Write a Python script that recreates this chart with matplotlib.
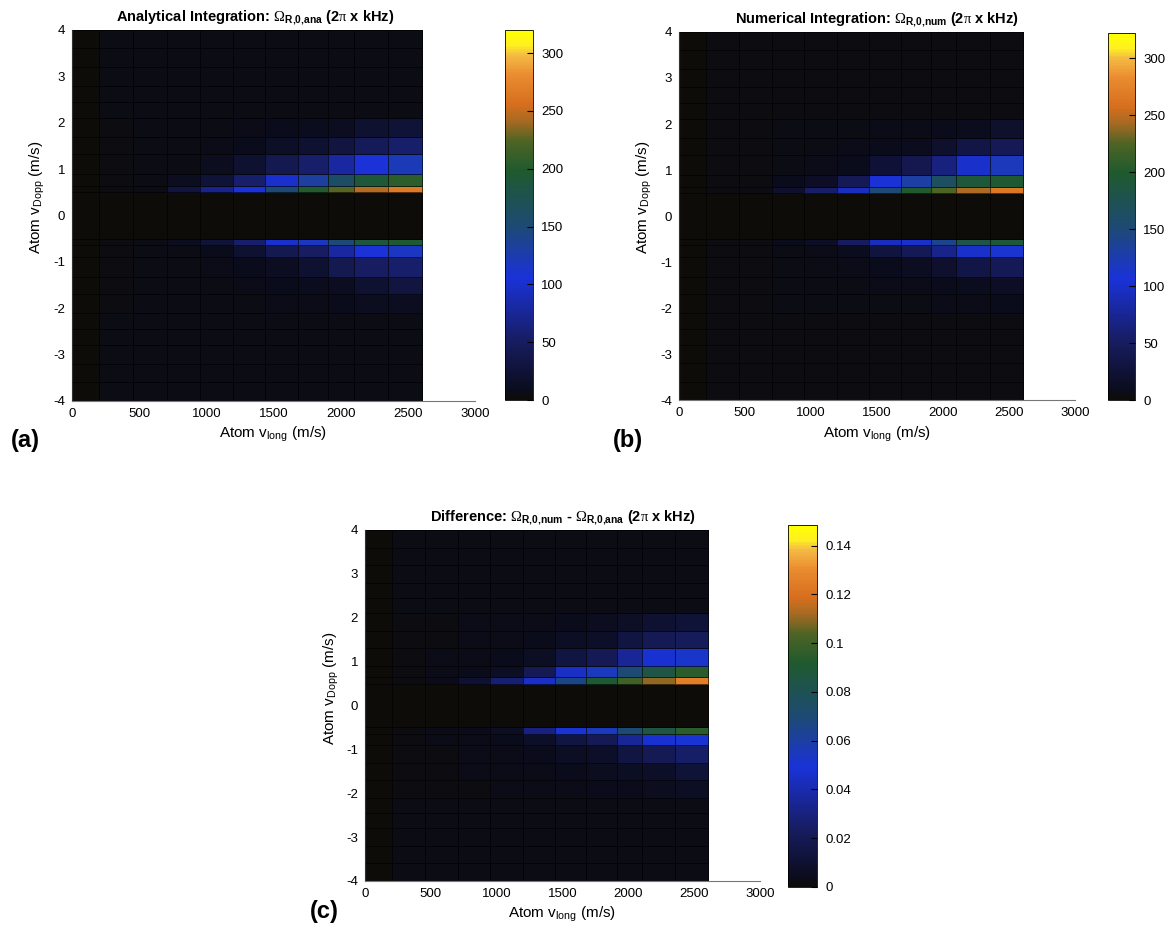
import numpy as np
import matplotlib
matplotlib.use('Agg')
import matplotlib.pyplot as plt
from matplotlib.colors import LinearSegmentedColormap

plt.rcParams['font.family'] = ['Liberation Sans', 'DejaVu Sans']
plt.rcParams['axes.unicode_minus'] = False
plt.rcParams['mathtext.fontset'] = 'custom'
plt.rcParams['mathtext.rm'] = 'Liberation Serif'
plt.rcParams['mathtext.it'] = 'Liberation Serif'
plt.rcParams['mathtext.bf'] = 'Liberation Sans:bold'
plt.rcParams['mathtext.sf'] = 'Liberation Sans'

# grid edges (m/s)
v_long_edges = [0, 205, 455, 705, 950, 1200, 1440, 1680, 1910, 2100, 2355, 2605]
v_dopp_edges = [-4, -3.6, -3.2, -2.8, -2.45, -2.1, -1.7, -1.32, -0.9, -0.64, -0.5,
                0.5, 0.64, 0.9, 1.32, 1.7, 2.1, 2.45, 2.8, 3.2, 3.6, 4]

# rows going outward from the centre band: +0.5..0.64, 0.64..0.9, ...
ana_pos = [
    [0, 4, 6, 30, 70, 105, 150, 200, 225, 245, 265],
    [0, 4, 5, 10, 25, 55, 100, 130, 160, 190, 205],
    [0, 4, 5, 6, 10, 20, 40, 55, 80, 105, 120],
    [0, 4, 5, 6, 7, 8, 15, 20, 30, 45, 55],
    [0, 4, 5, 6, 6, 7, 8, 9, 12, 20, 25],
]
ana_neg = [
    [0, 4, 5, 10, 25, 55, 100, 115, 150, 185, 195],
    [0, 4, 5, 6, 8, 20, 40, 50, 80, 105, 115],
    [0, 4, 5, 6, 7, 8, 12, 20, 40, 50, 55],
    [0, 4, 5, 6, 6, 7, 8, 9, 12, 20, 30],
    [0, 4, 5, 6, 6, 6, 7, 7, 8, 10, 12],
]
num_pos = [
    [0, 4, 6, 20, 55, 95, 150, 200, 225, 245, 265],
    [0, 4, 5, 8, 15, 45, 105, 130, 165, 190, 195],
    [0, 4, 5, 6, 7, 8, 25, 40, 65, 100, 120],
    [0, 4, 5, 6, 6, 7, 8, 10, 18, 35, 45],
    [0, 4, 5, 6, 6, 6, 7, 7, 8, 10, 18],
]
num_neg = [
    [0, 4, 5, 8, 15, 50, 95, 100, 140, 180, 190],
    [0, 4, 5, 6, 7, 10, 30, 45, 70, 100, 110],
    [0, 4, 5, 6, 6, 7, 8, 12, 20, 35, 45],
    [0, 4, 5, 6, 6, 6, 7, 7, 8, 10, 15],
    [0, 4, 5, 6, 6, 6, 6, 6, 7, 7, 8],
]
diff_pos = [
    [0, .002, .003, .01, .027, .045, .066, .09, .1, .11, .125],
    [0, .002, .003, .004, .006, .02, .045, .055, .07, .085, .095],
    [0, .002, .003, .003, .004, .006, .015, .02, .035, .048, .052],
    [0, .002, .002, .003, .003, .004, .006, .008, .015, .02, .022],
    [0, .002, .002, .003, .003, .003, .004, .005, .007, .01, .012],
]
diff_neg = [
    [0, .002, .003, .004, .006, .03, .05, .055, .07, .085, .095],
    [0, .002, .003, .003, .004, .008, .015, .02, .035, .048, .05],
    [0, .002, .002, .003, .003, .004, .006, .008, .015, .02, .025],
    [0, .002, .002, .003, .003, .003, .004, .005, .006, .008, .012],
    [0, .002, .002, .002, .003, .003, .003, .004, .004, .005, .006],
]
ana_floor = 5
num_floor = 5
diff_floor = 0.0025

cmap = LinearSegmentedColormap.from_list('rabi', [
    (0.0, '#0e0c08'), (0.025, '#0b0c1c'), (0.16, '#171d62'), (0.33, '#1a32d8'),
    (0.47, '#1d4a74'), (0.62, '#1f5a2e'), (0.70, '#4e6424'), (0.755, '#a66a22'),
    (0.8, '#d66e1e'), (0.88, '#ea8c30'), (0.935, '#f4bc44'), (0.96, '#fff020'),
    (1.0, '#ffff00')])


def build(pos, neg, floor):
    ny = len(v_dopp_edges) - 1
    nx = len(v_long_edges) - 1
    z = np.full((ny, nx), float(floor))
    z[:, 0] = 0
    mid = ny // 2
    z[mid, :] = 0
    for i, row in enumerate(pos):
        z[mid + 1 + i] = row
    for i, row in enumerate(neg):
        z[mid - 1 - i] = row
    return z


def panel(rect, cbrect, z, vmax, ticks, ticklabels, title, title_x, tag, tagpos):
    ax = fig.add_axes(rect)
    ax.pcolormesh(v_long_edges, v_dopp_edges, z, cmap=cmap, vmin=0, vmax=vmax,
                  edgecolors=(0, 0, 0, 0.6), linewidth=0.4)
    ax.set_xlim(0, 3000)
    ax.set_ylim(-4, 4)
    ax.set_xticks([0, 500, 1000, 1500, 2000, 2500, 3000])
    ax.set_yticks([-4, -3, -2, -1, 0, 1, 2, 3, 4])
    ax.tick_params(length=0, labelsize=9.5, pad=5)
    for s in ['top', 'right']:
        ax.spines[s].set_visible(False)
    ax.spines['bottom'].set_color('#777777')
    ax.spines['left'].set_color('#333333')
    ax.spines['bottom'].set_linewidth(0.8)
    ax.set_xlabel(r'Atom v$_{\mathsf{long}}$ (m/s)', fontsize=11, labelpad=4)
    ax.set_ylabel(r'Atom v$_{\mathsf{Dopp}}$ (m/s)', fontsize=11, labelpad=0)
    ax.yaxis.set_label_coords(-0.062, 0.55)
    ax.set_title(title, fontsize=10.5, fontweight='bold', pad=6, x=title_x)
    cax = fig.add_axes(cbrect)
    cb = fig.colorbar(ax.collections[0], cax=cax)
    cb.set_ticks(ticks)
    cb.set_ticklabels(ticklabels)
    cax.tick_params(direction='in', length=4, width=0.8, labelsize=9.5, pad=6)
    cb.outline.set_linewidth(0.6)
    fig.text(tagpos[0], tagpos[1], tag, fontsize=17, fontweight='bold', ha='center', va='center')


fig = plt.figure(figsize=(11.7, 9.41), dpi=100)

panel([0.0615, 0.5739, 0.3444, 0.3943], [0.4316, 0.5749, 0.0239, 0.3932],
      build(ana_pos, ana_neg, ana_floor), 320,
      [0, 50, 100, 150, 200, 250, 300], ['0', '50', '100', '150', '200', '250', '300'],
      r'Analytical Integration: $\Omega_{\mathbf{R{,}0{,}ana}}$ (2$\pi$ x kHz)', 0.455,
      '(a)', (0.022, 0.532))

panel([0.5803, 0.5749, 0.3385, 0.3911], [0.947, 0.5749, 0.0231, 0.39],
      build(num_pos, num_neg, num_floor), 322,
      [0, 50, 100, 150, 200, 250, 300], ['0', '50', '100', '150', '200', '250', '300'],
      r'Numerical Integration: $\Omega_{\mathbf{R{,}0{,}num}}$ (2$\pi$ x kHz)', 0.5,
      '(b)', (0.537, 0.532))

panel([0.312, 0.0638, 0.3376, 0.373], [0.6735, 0.0574, 0.0248, 0.3847],
      build(diff_pos, diff_neg, diff_floor), 0.1485,
      [0, 0.02, 0.04, 0.06, 0.08, 0.1, 0.12, 0.14],
      ['0', '0.02', '0.04', '0.06', '0.08', '0.1', '0.12', '0.14'],
      r'Difference: $\Omega_{\mathbf{R{,}0{,}num}}$ - $\Omega_{\mathbf{R{,}0{,}ana}}$ (2$\pi$ x kHz)', 0.5,
      '(c)', (0.277, 0.031))

fig.savefig('out.png', dpi=100)
